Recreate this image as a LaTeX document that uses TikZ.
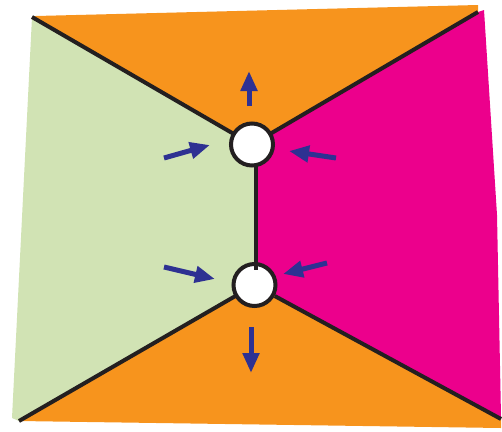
\documentclass[tikz,border=0pt]{standalone}
\usepackage{tikz}
\usetikzlibrary{arrows.meta}
\definecolor{orng}{HTML}{F7941D}
\definecolor{lgreen}{HTML}{D1E3B4}
\definecolor{mgnta}{HTML}{EC008C}
\definecolor{arrblue}{HTML}{2E3192}
\definecolor{inkblack}{HTML}{231F20}

\begin{document}
\begin{tikzpicture}[x=1pt, y=-1pt,
  wall/.style={line width=4pt, draw=inkblack},
  vertex/.style={circle, draw=inkblack, line width=4pt, fill=white,
    minimum size=42pt, inner sep=0pt, outer sep=0pt},
  force/.style={-{Triangle[length=20pt, width=16pt]}, line width=5pt, arrblue},
]
\useasboundingbox (0,0) rectangle (502,431);
% ====== CORNERS ======
\coordinate (tl) at (32,17);
\coordinate (tr) at (478,12);
\coordinate (bl) at (19,421);
\coordinate (br) at (501,419);
\coordinate (tcc) at (252,144.5);
\coordinate (bcc) at (254.5,285);
%
% ====== REGIONS ======
\fill[lgreen] (tl) -- (tcc) -- (256,150) -- (256,280) -- (bcc) -- (bl)
  -- (12,418) -- cycle;
\fill[mgnta] (tr) -- (484,10) -- (497,215) -- (501,417) -- (br) -- (bcc)
  -- (256,280) -- (256,150) -- (tcc) -- cycle;
\fill[orng] (36,16) -- (478,5) -- (tr) -- (tcc) -- (tl) -- cycle;
\fill[orng] (bl) -- (bcc) -- (br) -- (501,428) -- cycle;
%
% ====== VERTICES ======
\node[vertex] (tc) at (tcc) {};
\node[vertex] (bc) at (bcc) {};
%
% ====== WALLS ======
\draw[wall] (tl) -- (tc);
\draw[wall] (tc) -- (tr);
\draw[wall] (bl) -- (bc);
\draw[wall, shorten <=2pt] (bc) -- (br);
\coordinate (vtop) at (256,166);
\coordinate (vbot) at (256,270);
\draw[wall] (vtop) -- (vbot);
%
% ====== FORCES ======
\coordinate (up_s) at (249,106);
\coordinate (up_e) at (249,71);
\coordinate (tl_s) at (164,158);
\coordinate (tl_e) at (210,145);
\coordinate (tr_s) at (336,158);
\coordinate (tr_e) at (289,151);
\coordinate (bl_s) at (164,267);
\coordinate (bl_e) at (215,279);
\coordinate (br_s) at (327,263);
\coordinate (br_e) at (283,274);
\coordinate (dn_s) at (251,327);
\coordinate (dn_e) at (251,373);
\draw[force] (up_s) -- (up_e);
\draw[force] (tl_s) -- (tl_e);
\draw[force] (tr_s) -- (tr_e);
\draw[force] (bl_s) -- (bl_e);
\draw[force] (br_s) -- (br_e);
\draw[force] (dn_s) -- (dn_e);
\end{tikzpicture}
\end{document}
